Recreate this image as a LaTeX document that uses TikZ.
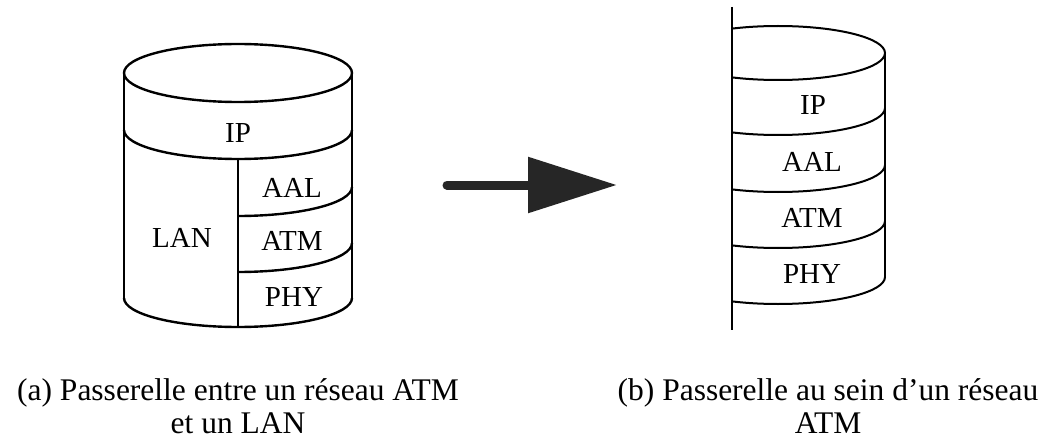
\documentclass[tikz,border=0pt]{standalone}
\usepackage{fontspec}
\setmainfont{Liberation Serif}
\usetikzlibrary{arrows.meta}

\begin{document}
\begin{tikzpicture}[x = 1pt, y = -1pt,
	layerLabel/.style = {inner sep = 0pt, font = \fontsize{29}{31}\selectfont},
	captionText/.style = {inner sep = 0pt, align = center, font = \fontsize{31.5}{33}\selectfont},
	cylLine/.style = {line width = 2.4pt},
	halfLine/.style = {line width = 2pt}]

	\useasboundingbox (0,0) rectangle (1049,441);

	% left cylinder : gateway between ATM and LAN
	\def \cylX {238};
	\def \cylRx {114};
	\def \cylRy {29};
	\coordinate (cylTop) at (\cylX,73);
	\draw [cylLine] (cylTop) ellipse ({\cylRx} and {\cylRy});
	\draw [cylLine] ({\cylX - \cylRx},73) -- ({\cylX - \cylRx},298);
	\draw [cylLine] ({\cylX + \cylRx},73) -- ({\cylX + \cylRx},298);
	\draw [cylLine] ({\cylX - \cylRx},130) arc (180:0:{\cylRx} and {\cylRy});
	\draw [cylLine] ({\cylX - \cylRx},298) arc (180:0:{\cylRx} and {\cylRy});

	% split under IP
	\draw [cylLine] (\cylX,{130 + \cylRy}) -- (\cylX,{298 + \cylRy});
	\draw [cylLine] (\cylX,{187 + \cylRy}) arc (90:0:{\cylRx} and {\cylRy});
	\draw [cylLine] (\cylX,{243 + \cylRy}) arc (90:0:{\cylRx} and {\cylRy});

	\node [layerLabel] (ipLeft) at (\cylX,133) {IP};
	\node [layerLabel] (lanLeft) at (182,238) {LAN};
	\node [layerLabel] (aalLeft) at (292,188) {AAL};
	\node [layerLabel] (atmLeft) at (292,241) {ATM};
	\node [layerLabel] (phyLeft) at (294,297) {PHY};

	% thick arrow
	\coordinate (arrowTail) at (447,185);
	\coordinate (arrowTip) at (617,185);
	\draw [line width = 9pt, line cap = round, black!85, -{Triangle[length = 89pt, width = 54pt]}] (arrowTail) -- (arrowTip);

	% right stack : cut by the network line
	\def \halfX {778};
	\def \halfRx {107};
	\def \halfRy {27};
	\draw [halfLine] (732,7) -- (732,330);
	\begin{scope}
		\clip (732,0) rectangle (900,341);
		\draw [halfLine] (\halfX,53) ellipse ({\halfRx} and {\halfRy});
		\draw [halfLine] ({\halfX - \halfRx},108) arc (180:0:{\halfRx} and {\halfRy});
		\draw [halfLine] ({\halfX - \halfRx},165) arc (180:0:{\halfRx} and {\halfRy});
		\draw [halfLine] ({\halfX - \halfRx},221) arc (180:0:{\halfRx} and {\halfRy});
		\draw [halfLine] ({\halfX - \halfRx},277) arc (180:0:{\halfRx} and {\halfRy});
	\end{scope}
	\draw [halfLine] ({\halfX + \halfRx},53) -- ({\halfX + \halfRx},277);

	\node [layerLabel] (ipRight) at (813,105) {IP};
	\node [layerLabel] (aalRight) at (812,162) {AAL};
	\node [layerLabel] (atmRight) at (812,218) {ATM};
	\node [layerLabel] (phyRight) at (812,274) {PHY};

	% captions
	\node [captionText] (captionA) at (238,406) {(a) Passerelle entre un réseau ATM\\et un LAN};
	\node [captionText] (captionB) at (828,406) {(b) Passerelle au sein d’un réseau\\ATM};

\end{tikzpicture}
\end{document}
